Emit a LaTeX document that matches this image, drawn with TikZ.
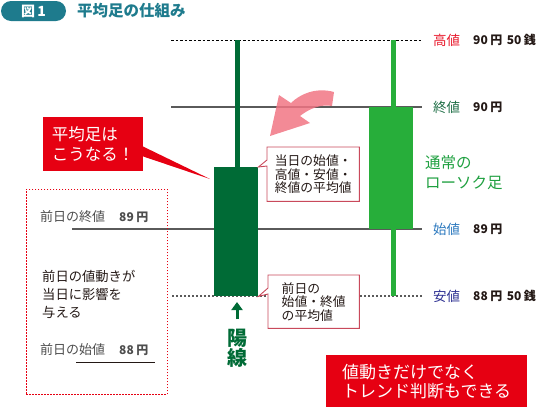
\documentclass[tikz,border=0pt]{standalone}
\usepackage{fontspec}
\newfontfamily\jp{Noto Sans CJK JP}
\usetikzlibrary{arrows.meta,calc}
\definecolor{dkgreen}{HTML}{006B36}
\definecolor{ltgreen}{HTML}{27AE3A}
\definecolor{hred}{HTML}{E60012}
\definecolor{pinkarr}{HTML}{F17584}
\definecolor{cborder}{HTML}{C9495B}
\definecolor{takane}{HTML}{E8192C}
\definecolor{owarine}{HTML}{1E6E46}
\definecolor{hajimene}{HTML}{2B78BE}
\definecolor{yasune}{HTML}{2E3192}
\definecolor{tsujo}{HTML}{1FA040}
\definecolor{tealc}{HTML}{1E7B8D}
\definecolor{lgray}{HTML}{5A5A5A}
\definecolor{txtgray}{HTML}{4D4D4D}
\definecolor{txtblack}{HTML}{231815}
\newcommand{\ysp}{\hspace{2.5pt}}
\newcommand{\ygap}{\hspace{4.5pt}}
\tikzset{
  lbl/.style={anchor=west, font=\jp\fontsize{13.5}{13.5}\selectfont},
  val/.style={anchor=west, font=\jp\bfseries\fontsize{12}{12}\selectfont, text=txtblack},
  callout/.style={fill=white, anchor=north west, align=left, text=txtblack,
    font=\jp\fontsize{12.8}{13.5}\selectfont},
  cb/.style={draw=cborder, line width=0.9pt, line join=miter},
  redbox/.style={fill=hred, text=white, anchor=north west, align=left},
  pline/.style={draw=lgray, line width=1.1pt},
}
\begin{document}
\begin{tikzpicture}[x=1pt,y=-1pt, every node/.style={inner sep=0pt}]
\useasboundingbox (0,0) rectangle (537,408);

% title
\node[fill=tealc, rounded corners=10pt, minimum width=65pt, minimum height=20pt,
  text=white, font=\jp\bfseries\fontsize{14}{14}\selectfont] (badge) at (33.5,11) {図\,1};
\node[anchor=west, text=tealc, font=\jp\bfseries\fontsize{15.5}{16}\selectfont] (title) at (77,11) {平均足の仕組み};

% horizontal price lines
\coordinate (hiL) at (171,40);   \coordinate (hiR) at (422,40);
\coordinate (clL) at (171,107);  \coordinate (clR) at (422,107);
\coordinate (opL) at (72,229);   \coordinate (opR) at (422,229);
\coordinate (loL) at (172,296);  \coordinate (loR) at (422,296);
\draw[black, line width=0.6pt, dash pattern=on 2.5pt off 2pt] (hiL) -- (hiR);
\draw[pline] (clL) -- (clR);
\draw[pline] (opL) -- (opR);
\draw[lgray, line width=1.1pt, dash pattern=on 2pt off 2pt] (loL) -- (loR);

% normal candle (light green)
\fill[ltgreen] (391,40) rectangle (396,296);
\node[fill=ltgreen, minimum width=44pt, minimum height=122pt, anchor=north west] (nc) at (369,107) {};

% heikin-ashi candle (dark green)
\fill[dkgreen] (234.5,40) rectangle (239.5,167);
\node[fill=dkgreen, minimum width=44pt, minimum height=129pt, anchor=north west] (ha) at (214,167) {};

% right labels
\node[lbl, text=takane] (lh) at (433,40) {高値};
\node[val] (vh) at (473,40) {90\ysp 円\ygap 50\ysp 銭};
\node[lbl, text=owarine] (lc) at (433,107) {終値};
\node[val] (vc) at (473,107) {90\ysp 円};
\node[lbl, text=hajimene] (lo) at (433,229) {始値};
\node[val] (vo) at (473,229) {89\ysp 円};
\node[lbl, text=yasune] (ll) at (433,296) {安値};
\node[val] (vl) at (473,296) {88\ysp 円\ygap 50\ysp 銭};

\node[anchor=west, align=left, text=tsujo, font=\jp\fontsize{15.5}{20}\selectfont] (tsu) at (425,173) {通常の\\ローソク足};

% pink curved arrow
\fill[pinkarr, opacity=0.85] (334,92) .. controls (316,87) and (300,94) .. (291,103)
  -- (279,95) -- (270,136) -- (310,123) -- (300,116)
  .. controls (310,108) and (322,104) .. (332,106) -- cycle;

% callout 1
\node[callout, minimum width=92pt, minimum height=54pt] (c1) at (267,147) {当日の始値・\\高値・安値・\\終値の平均値};
\draw[cb] ($(c1.north west)+(0,13)$) -- (c1.north west) -- (c1.north east) -- (c1.south east)
  -- (c1.south west) -- ($(c1.north west)+(0,19)$) -- (ha.north east) -- cycle;

% callout 2
\node[callout, minimum width=91pt, minimum height=53pt] (c2) at (268,275) {前日の\\始値・終値\\の平均値};
\draw[cb] ($(c2.north west)+(0,13)$) -- (c2.north west) -- (c2.north east) -- (c2.south east)
  -- (c2.south west) -- ($(c2.north west)+(0,19)$) -- (ha.south east) -- cycle;

% red callout
\node[redbox, minimum width=100pt, minimum height=54pt, font=\jp\fontsize{16.5}{20}\selectfont] (r1) at (43,117) {平均足は\\こうなる！};
\coordinate (r1tip) at ($(ha.north west)+(-4,12)$);
\fill[hred] ($(r1.east)+(-1,2)$) -- (r1tip) -- ($(r1.east)+(-1,12)$) -- cycle;

% dotted box: previous day
\node[draw=hred, line width=0.8pt, dash pattern=on 1.5pt off 1.5pt, minimum width=141pt,
  minimum height=205pt, anchor=north west] (prev) at (26,189) {};
\node[anchor=west, text=txtgray, font=\jp\fontsize{13}{13}\selectfont] (pc) at (40,217)
  {前日の終値\hspace{14pt}{\bfseries\fontsize{12}{12}\selectfont 89\ysp 円}};
\node[anchor=west, align=left, text=txtblack, font=\jp\fontsize{13.3}{18}\selectfont] (pm) at (42,294)
  {前日の値動きが\\当日に影響を\\与える};
\node[anchor=west, text=txtgray, font=\jp\fontsize{13}{13}\selectfont] (po) at (40,350)
  {前日の始値\hspace{14pt}{\bfseries\fontsize{12}{12}\selectfont 88\ysp 円}};
\coordinate (uL) at (76,362); \coordinate (uR) at (155,362);
\draw[txtblack, line width=1pt] (uL) -- (uR);

% yosen arrow and label
\coordinate (aB) at (237,319); \coordinate (aT) at (237,302);
\draw[dkgreen, line width=3pt, -{Triangle[width=11pt,length=8pt]}] (aB) -- (aT);
\node[text=dkgreen, align=center, font=\jp\bfseries\fontsize{20}{20}\selectfont] (yo) at (237,348) {陽\\線};

% bottom red box
\node[redbox, minimum width=201pt, minimum height=52pt, font=\jp\fontsize{17}{19}\selectfont] (r2) at (326,355)
  {値動きだけでなく\\トレンド判断もできる};
\end{tikzpicture}
\end{document}
